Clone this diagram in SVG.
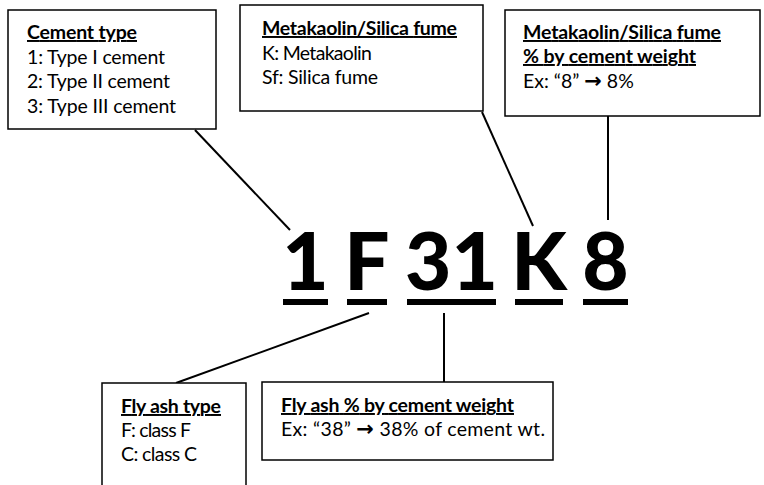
<svg xmlns="http://www.w3.org/2000/svg" width="764" height="485" viewBox="0 0 764 485">
<style>
.box{fill:#fff;stroke:#000;stroke-width:1.5}
.t{font-family:Lato,"Open Sans","Liberation Sans",sans-serif;font-size:19.5px;fill:#000}
.h{font-weight:bold;text-decoration:underline}
.ar{font-family:"DejaVu Sans",sans-serif;font-weight:bold;font-size:21px}
.big{font-family:Lato,"Liberation Sans",sans-serif;font-size:80px;font-weight:900;fill:#000;text-anchor:middle}
.ln{stroke:#000;stroke-width:2;fill:none}
.ul{fill:#000}
</style>
<rect width="764" height="485" fill="#fff"/>
<g id="connectors">
<line class="ln" x1="195" y1="130" x2="290" y2="230"/>
<line class="ln" x1="482" y1="112" x2="533" y2="226"/>
<line class="ln" x1="608" y1="116" x2="608" y2="220"/>
<line class="ln" x1="369" y1="313" x2="176" y2="383"/>
<line class="ln" x1="444" y1="313" x2="444" y2="382"/>
</g>
<g id="cement-type">
<rect class="box" x="8" y="10" width="208" height="119"/>
<text class="t h" x="27" y="39" textLength="110">Cement type</text>
<text class="t" x="27" y="64" textLength="138">1: Type I cement</text>
<text class="t" x="27" y="88" textLength="143">2: Type II cement</text>
<text class="t" x="27" y="113" textLength="149">3: Type III cement</text>
</g>
<g id="mk-sf">
<rect class="box" x="240" y="5" width="243" height="106"/>
<text class="t h" x="262" y="35" textLength="195">Metakaolin/Silica fume</text>
<text class="t" x="262" y="60" textLength="110">K: Metakaolin</text>
<text class="t" x="262" y="84" textLength="116">Sf: Silica fume</text>
</g>
<g id="mk-sf-pct">
<rect class="box" x="505" y="10" width="255" height="106"/>
<text class="t h" x="523" y="39" textLength="198">Metakaolin/Silica fume</text>
<text class="t h" x="523" y="63" textLength="173">% by cement weight</text>
<text class="t" x="523" y="88">Ex: “8” <tspan class="ar">→</tspan> 8%</text>
</g>
<g id="code">
<text class="big" x="305.5" y="290">1</text>
<text class="big" x="367" y="290">F</text>
<text class="big" x="451.5" y="290">31</text>
<text class="big" x="539" y="290">K</text>
<text class="big" x="605.5" y="290">8</text>
<rect class="ul" x="283" y="299" width="45" height="6"/>
<rect class="ul" x="347" y="299" width="40" height="6"/>
<rect class="ul" x="407" y="299" width="89" height="6"/>
<rect class="ul" x="515" y="299" width="48" height="6"/>
<rect class="ul" x="583" y="299" width="45" height="6"/>
</g>
<g id="fly-ash-type">
<rect class="box" x="102" y="383" width="144" height="110"/>
<text class="t h" x="121" y="413" textLength="100">Fly ash type</text>
<text class="t" x="121" y="437" textLength="70">F: class F</text>
<text class="t" x="121" y="461" textLength="76">C: class C</text>
</g>
<g id="fly-ash-pct">
<rect class="box" x="262" y="382" width="291" height="78"/>
<text class="t h" x="281" y="412" textLength="233">Fly ash % by cement weight</text>
<text class="t" x="281" y="436" textLength="264">Ex: “38” <tspan class="ar">→</tspan> 38% of cement wt.</text>
</g>
</svg>
